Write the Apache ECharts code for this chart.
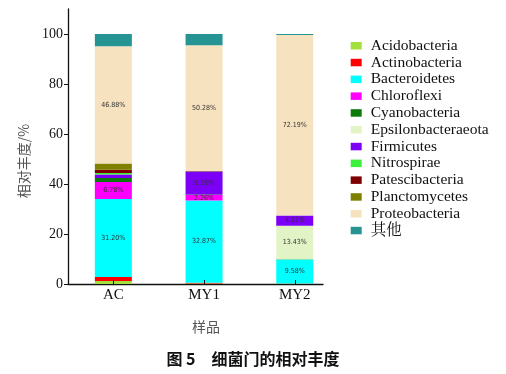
<!DOCTYPE html>
<html>
<head>
<meta charset="utf-8">
<script src="https://cdn.jsdelivr.net/npm/echarts@6/dist/echarts.min.js"></script>
<style>html,body{margin:0;padding:0;background:#fff;}#c{width:506px;height:374px;}</style>
</head>
<body>
<div id="c"></div>
<script>
// ---- data ----
const categories = ['AC', 'MY1', 'MY2'];
const phyla = ['Acidobacteria', 'Actinobacteria', 'Bacteroidetes', 'Chloroflexi', 'Cyanobacteria',
  'Epsilonbacteraeota', 'Firmicutes', 'Nitrospirae', 'Patescibacteria', 'Planctomycetes',
  'Proteobacteria', '其他'];
const Acidobacteria      = [1.2, 0.2, 0.1];
const Actinobacteria     = [1.6, 0.3, 0.1];
const Bacteroidetes      = [31.20, 32.87, 9.58];
const Chloroflexi        = [6.78, 2.26, 0.05];
const Cyanobacteria      = [1.6, 0.2, 0.03];
const Epsilonbacteraeota = [0, 0, 13.43];
const Firmicutes         = [1.4, 9.19, 4.12];
const Nitrospirae        = [0.6, 0, 0];
const Patescibacteria    = [1.3, 0.1, 0];
const Planctomycetes     = [2.5, 0.1, 0];
const Proteobacteria     = [46.88, 50.28, 72.19];
const Others             = [4.94, 4.5, 0.4];
const yTicks = [0, 20, 40, 60, 80, 100];
const labeledPhyla = ['Bacteroidetes', 'Chloroflexi', 'Epsilonbacteraeota', 'Firmicutes', 'Proteobacteria'];

const seriesValues = [Acidobacteria, Actinobacteria, Bacteroidetes, Chloroflexi, Cyanobacteria,
  Epsilonbacteraeota, Firmicutes, Nitrospirae, Patescibacteria, Planctomycetes, Proteobacteria, Others];
const colors = ['#A2E03E', '#FF0000', '#00FFFF', '#FF00FF', '#0B7A0B', '#E2F4C6', '#7B00F5',
  '#3CF03C', '#7F0000', '#808000', '#F7E2BF', '#279494'];

const series = phyla.map((name, i) => ({
  name: name,
  type: 'bar',
  stack: 'total',
  barWidth: 37,
  xAxisIndex: 0,
  yAxisIndex: 0,
  itemStyle: { color: colors[i] },
  label: {
    show: labeledPhyla.indexOf(name) >= 0,
    position: 'inside',
    color: '#333',
    fontSize: 7,
    fontFamily: "'DejaVu Sans Condensed', 'Liberation Sans Narrow', sans-serif",
    formatter: p => (p.value >= 2 ? p.value.toFixed(2) + '%' : '')
  },
  emphasis: { disabled: true },
  data: seriesValues[i]
}));

const chart = echarts.init(document.getElementById('c'), null, { renderer: 'canvas' });
chart.setOption({
  animation: false,
  color: colors,
  title: {
    text: '图 5　细菌门的相对丰度',
    left: 'center',
    top: 346,
    textStyle: { fontSize: 16, fontWeight: 'bold', color: '#111',
      fontFamily: "'Noto Sans CJK SC', sans-serif" }
  },
  grid: [
    { left: 68, right: 165.9, top: 9, bottom: 90, containLabel: false },
    { left: 68, right: 183, top: 9, bottom: 90, containLabel: false }
  ],
  legend: {
    orient: 'vertical',
    left: 350.7,
    top: 38,
    padding: 0,
    itemWidth: 11,
    itemHeight: 7.5,
    itemGap: 1.3,
    icon: 'rect',
    textStyle: { fontSize: 15.5, lineHeight: 15, color: '#111', padding: [0, 0, 0, 4],
      fontFamily: "'Liberation Serif', 'Noto Serif CJK SC', serif" },
    data: phyla
  },
  xAxis: [
    {
      type: 'category',
      gridIndex: 0,
      data: categories,
      boundaryGap: true,
      name: '样品',
      nameLocation: 'middle',
      nameGap: 36,
      nameTextStyle: { fontSize: 14, color: '#555', padding: [0, 0, 0, 4],
        fontFamily: "'Noto Sans CJK SC', sans-serif" },
      axisLine: { show: false },
      axisTick: { show: true, inside: true, length: 4, alignWithLabel: true,
        lineStyle: { color: '#111', width: 1 } },
      axisLabel: { fontSize: 15, color: '#111', margin: 4,
        fontFamily: "'Liberation Serif', serif" },
      z: 5
    },
    {
      type: 'value',
      gridIndex: 1,
      min: 0, max: 1,
      axisLine: { show: true, onZero: false, lineStyle: { color: '#111', width: 1.3 } },
      axisTick: { show: false },
      axisLabel: { show: false },
      splitLine: { show: false }
    }
  ],
  yAxis: [
    {
      type: 'value',
      gridIndex: 0,
      min: 0, max: 110,
      show: false
    },
    {
      type: 'value',
      gridIndex: 1,
      min: 0,
      max: 110,
      name: '相对丰度/%',
      nameLocation: 'middle',
      nameGap: 36,
      nameTextStyle: { fontSize: 14, color: '#555', padding: [0, 29, 0, 0],
        fontFamily: "'Noto Sans CJK SC', sans-serif" },
      splitLine: { show: false },
      axisLine: { show: true, onZero: false, lineStyle: { color: '#111', width: 1.3 } },
      axisTick: { show: true, length: 4, customValues: yTicks, lineStyle: { color: '#111', width: 1 } },
      axisLabel: {
        customValues: yTicks,
        fontSize: 14, color: '#111', margin: 5,
        fontFamily: "'Liberation Serif', serif"
      }
    }
  ],
  series: series
});
</script>
</body>
</html>
